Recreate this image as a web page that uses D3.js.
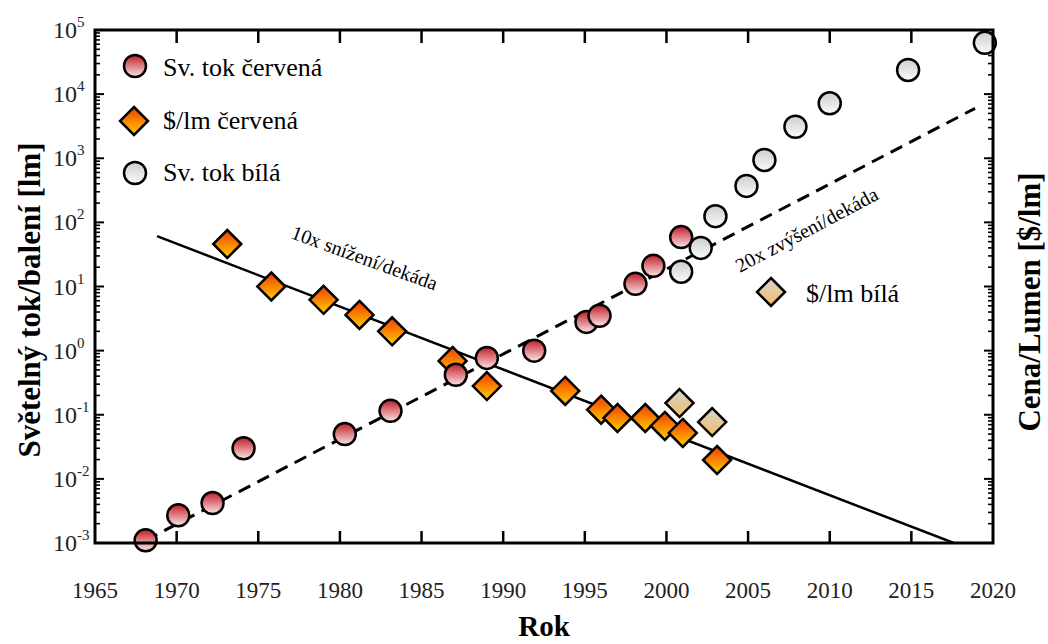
<!DOCTYPE html>
<html>
<head>
	<script src="https://cdn.jsdelivr.net/npm/d3@7"></script>
	<style>
		html, body {
			padding: 0;
			margin: 0;
			background: #fff;
		}
	</style>
</head>
<body>
	<script>
		var width = 1048, height = 644;
		var serif = "'Liberation Serif', 'DejaVu Serif', 'Times New Roman', Times, serif";

		// data
		var redFluxYears = [1968.1, 1970.1, 1972.2, 1974.1, 1980.3, 1983.1, 1987.1, 1989.0, 1991.9, 1995.1, 1995.9, 1998.1, 1999.2, 2000.9];
		var redFlux = [0.0011, 0.0027, 0.0042, 0.030, 0.050, 0.115, 0.42, 0.77, 1.0, 2.8, 3.5, 11, 21, 59];

		var whiteFluxYears = [2000.9, 2002.1, 2003.0, 2004.9, 2006.0, 2007.9, 2010.0, 2014.8, 2019.5];
		var whiteFlux = [17, 40, 125, 370, 940, 3100, 7200, 23800, 63000];

		var redPriceYears = [1973.1, 1975.8, 1979.0, 1981.2, 1983.2, 1986.9, 1989.0, 1993.8, 1996.0, 1997.0, 1998.7, 1999.9, 2001.0, 2003.1];
		var redPrice = [46, 10, 6.2, 3.6, 2.0, 0.69, 0.28, 0.235, 0.12, 0.089, 0.089, 0.067, 0.052, 0.0197];

		var whitePriceYears = [2000.8, 2002.8];
		var whitePrice = [0.152, 0.077];

		// trend lines, end points
		var priceTrend = [[1968.8, 61], [2017.6, 0.001]];
		var fluxTrend = [[1968.1, 0.0011], [2018.9, 6000]];

		var yearTicks = [1965, 1970, 1975, 1980, 1985, 1990, 1995, 2000, 2005, 2010, 2015, 2020];
		var powers = [-3, -2, -1, 0, 1, 2, 3, 4, 5];

		var svg = d3.select('body').append('svg')
			.attr('width', width)
			.attr('height', height)
			.attr('font-family', serif)
			.style('font-family', serif);

		var x = d3.scaleLinear().domain([1965, 2020]).range([95, 993]);
		var y = d3.scaleLog().domain([1e-3, 1e5]).range([543, 30]);

		//////// GRADIENTS ////////
		var defs = svg.append("defs");
		function grad(id, top, bottom) {
			var g = defs.append("linearGradient")
				.attr("id", id)
				.attr("x1", "0%").attr("y1", "0%")
				.attr("x2", "0%").attr("y2", "100%");
			g.append("stop").attr("offset", "0%").attr("stop-color", top);
			g.append("stop").attr("offset", "100%").attr("stop-color", bottom);
		}
		grad("g-red", "#c01c28", "#fbe6e6");
		grad("g-orange", "#f23a00", "#ffcf00");
		grad("g-white", "#cdcdcd", "#fbfbfb");
		grad("g-wdiam", "#d6d3d0", "#f3be62");

		defs.append("clipPath").attr("id", "plot-clip")
			.append("rect")
			.attr("x", x(1965)).attr("y", y(1e5))
			.attr("width", x(2020) - x(1965))
			.attr("height", y(1e-3) - y(1e5));

		//////// AXES ////////
		var frame = svg.append("g");

		// bottom + top ticks
		frame.selectAll(".xt").data(yearTicks.slice(1, -1)).join("line")
			.attr("x1", d => x(d)).attr("x2", d => x(d))
			.attr("y1", y(1e-3)).attr("y2", y(1e-3) - 12)
			.attr("stroke", "#000").attr("stroke-width", 2.5);
		frame.selectAll(".xtt").data(yearTicks.slice(1, -1)).join("line")
			.attr("x1", d => x(d)).attr("x2", d => x(d))
			.attr("y1", y(1e5)).attr("y2", y(1e5) + 13)
			.attr("stroke", "#000").attr("stroke-width", 2.5);

		// log ticks left + right
		var minor = [];
		powers.slice(0, -1).forEach(function(p) {
			for (var m = 2; m <= 9; m++) minor.push(m * Math.pow(10, p));
		});
		var major = powers.map(p => Math.pow(10, p));

		[[x(1965), 1], [x(2020), -1]].forEach(function(side) {
			frame.append("g").selectAll("line").data(minor).join("line")
				.attr("x1", side[0]).attr("x2", side[0] + side[1] * 5)
				.attr("y1", d => y(d)).attr("y2", d => y(d))
				.attr("stroke", "#000").attr("stroke-width", 1.6);
			frame.append("g").selectAll("line").data(major).join("line")
				.attr("x1", side[0]).attr("x2", side[0] + side[1] * 9)
				.attr("y1", d => y(d)).attr("y2", d => y(d))
				.attr("stroke", "#000").attr("stroke-width", 2);
		});

		// y tick labels 10^n
		var ylab = svg.append("g").selectAll("text").data(powers).join("text")
			.attr("x", 53)
			.attr("y", d => y(Math.pow(10, d)) + 8)
			.attr("fill", "#222")
			.style("font-size", "24px");
		ylab.append("tspan").text("10");
		ylab.append("tspan")
			.attr("dy", -11)
			.style("font-size", "15px")
			.text(d => d);

		// x tick labels
		svg.append("g").selectAll("text").data(yearTicks).join("text")
			.attr("x", d => x(d))
			.attr("y", y(1e-3) + 55)
			.attr("text-anchor", "middle")
			.attr("fill", "#222")
			.style("font-size", "23px")
			.text(d => d);

		// axis titles
		svg.append("text")
			.attr("transform", "translate(40," + 300 + ") rotate(-90)")
			.attr("text-anchor", "middle")
			.style("font-size", "31px").style("font-weight", "bold")
			.text("Světelný tok/balení [lm]");
		svg.append("text")
			.attr("transform", "translate(1040," + 302 + ") rotate(-90)")
			.attr("text-anchor", "middle")
			.style("font-size", "31px").style("font-weight", "bold")
			.text("Cena/Lumen [$/lm]");
		svg.append("text")
			.attr("x", (x(1965) + x(2020)) / 2)
			.attr("y", 636)
			.attr("text-anchor", "middle")
			.style("font-size", "29px").style("font-weight", "bold")
			.text("Rok");

		//////// TREND LINES ////////
		var line = d3.line().x(d => x(d[0])).y(d => y(d[1]));
		var plot = svg.append("g").attr("clip-path", "url(#plot-clip)");

		plot.append("path").datum(priceTrend)
			.attr("d", line)
			.attr("fill", "none").attr("stroke", "#000").attr("stroke-width", 2.5);
		plot.append("path").datum(fluxTrend)
			.attr("d", line)
			.attr("fill", "none").attr("stroke", "#000").attr("stroke-width", 3)
			.attr("stroke-dasharray", "13,8");

		svg.append("text")
			.attr("transform", "translate(290,238) rotate(20)")
			.style("font-size", "20px")
			.text("10x snížení/dekáda");
		svg.append("text")
			.attr("transform", "translate(740,273) rotate(-28)")
			.style("font-size", "20px")
			.text("20x zvýšení/dekáda");

		//////// MARKERS ////////
		var diamond = "M0,-14L14,0L0,14L-14,0Z";

		function diamonds(years, vals, fill) {
			svg.append("g").selectAll("path").data(years).join("path")
				.attr("d", diamond)
				.attr("transform", (d, i) => "translate(" + x(d) + "," + y(vals[i]) + ")")
				.attr("fill", fill)
				.attr("stroke", "#000").attr("stroke-width", 2.5)
				.attr("stroke-linejoin", "miter");
		}
		function circles(years, vals, fill) {
			svg.append("g").selectAll("circle").data(years).join("circle")
				.attr("cx", d => x(d))
				.attr("cy", (d, i) => y(vals[i]))
				.attr("r", 11)
				.attr("fill", fill)
				.attr("stroke", "#000").attr("stroke-width", 2.5);
		}

		diamonds(whitePriceYears, whitePrice, "url(#g-wdiam)");
		diamonds(redPriceYears, redPrice, "url(#g-orange)");
		circles(redFluxYears, redFlux, "url(#g-red)");
		circles(whiteFluxYears, whiteFlux, "url(#g-white)");

		// frame on top
		svg.append("rect")
			.attr("x", x(1965)).attr("y", y(1e5))
			.attr("width", x(2020) - x(1965))
			.attr("height", y(1e-3) - y(1e5))
			.attr("fill", "none").attr("stroke", "#000").attr("stroke-width", 3);

		//////// LEGEND ////////
		var leg = svg.append("g");
		leg.append("circle").attr("cx", 135).attr("cy", 66).attr("r", 11)
			.attr("fill", "url(#g-red)").attr("stroke", "#000").attr("stroke-width", 2.5);
		leg.append("path").attr("d", diamond).attr("transform", "translate(134,121)")
			.attr("fill", "url(#g-orange)").attr("stroke", "#000").attr("stroke-width", 2.5);
		leg.append("circle").attr("cx", 135).attr("cy", 173).attr("r", 11)
			.attr("fill", "url(#g-white)").attr("stroke", "#000").attr("stroke-width", 2.5);
		leg.append("path").attr("d", diamond).attr("transform", "translate(771,292)")
			.attr("fill", "url(#g-wdiam)").attr("stroke", "#000").attr("stroke-width", 2.5);

		var legText = [
			["Sv. tok červená", 163, 76],
			["$/lm červená", 163, 129],
			["Sv. tok bílá", 163, 181],
			["$/lm bílá", 806, 302]
		];
		leg.selectAll("text").data(legText).join("text")
			.attr("x", d => d[1]).attr("y", d => d[2])
			.style("font-size", "26px")
			.text(d => d[0]);
	</script>
</body>
</html>
